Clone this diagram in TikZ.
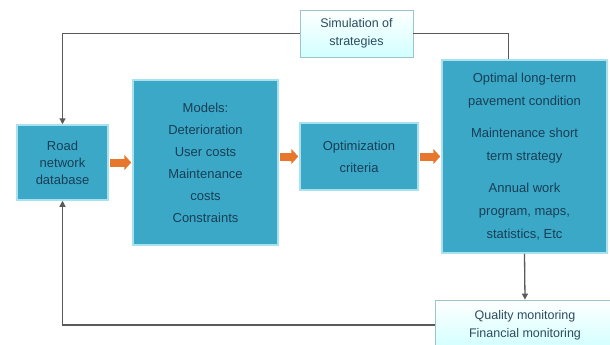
\documentclass[tikz,border=0pt]{standalone}
\usepackage{fontspec}
\setmainfont{Liberation Sans}
\usetikzlibrary{arrows.meta,positioning,calc}

\definecolor{boxfill}{HTML}{3BA8C8}
\definecolor{boxedge}{HTML}{A8E2EE}
\definecolor{boxtext}{HTML}{173F55}
\definecolor{linkgray}{HTML}{5A5A5A}
\definecolor{flowor}{HTML}{E8772E}

\begin{document}
\begin{tikzpicture}[
  x=1pt, y=-1pt, >={Triangle[length=6pt,width=6pt]},
  block/.style={rectangle, draw=boxedge, line width=1.5pt, fill=boxfill,
    text=boxtext, align=center, inner sep=2pt, font=\fontsize{13}{17}\selectfont},
  note/.style={rectangle, draw=boxedge!70!gray, line width=0.8pt,
    top color=white, bottom color=cyan!18, text=boxtext!80!gray,
    align=center, font=\fontsize{12.5}{18}\selectfont},
  link/.style={draw=linkgray, line width=1.3pt},
  flow/.style={draw=flowor, line width=8pt,
    -{Triangle[length=7pt,width=15pt]}, shorten <=1pt, shorten >=1pt},
]
\useasboundingbox (0,0) rectangle (610,345);

% main chain
\node[block, minimum width=91pt, minimum height=75pt] (road) at (62.5,162.5)
  {Road\\network\\database};
\node[block, minimum width=145pt, minimum height=165pt,
  font=\fontsize{13}{22}\selectfont] (models) at (205.5,162.5)
  {Models:\\Deterioration\\User costs\\Maintenance\\costs\\Constraints};
\node[block, minimum width=118pt, minimum height=67pt,
  font=\fontsize{13}{22}\selectfont] (crit) at (359,156.5)
  {Optimization\\criteria};
\node[block, minimum width=165pt, minimum height=193pt,
  font=\fontsize{13}{23}\selectfont] (plan) at (524.5,156.5)
  {Optimal long-term\\pavement condition\\[9pt]Maintenance short\\term strategy\\[9pt]Annual work\\program, maps,\\statistics, Etc};

% feedback boxes
\node[note, minimum width=113pt, minimum height=47pt] (sim) at (356.5,33.5)
  {Simulation of\\strategies};
\node[note, minimum width=180pt, minimum height=50pt] (qual) at (525,325)
  {Quality monitoring\\Financial monitoring};

% orange flow arrows
\draw[flow] (road.east) -- (models.west);
\draw[flow] (models.east |- crit.west) -- (crit.west);
\draw[flow] (crit.east) -- (plan.west);

% loops
\draw[link] ([xshift=-16pt]plan.north) |- (sim.east);
\draw[link, ->] (sim.west) -| (road.north);
\draw[link, ->] (plan.south) -- (qual.north);
\draw[link, ->] (qual.west) -| (road.south);
\end{tikzpicture}
\end{document}
